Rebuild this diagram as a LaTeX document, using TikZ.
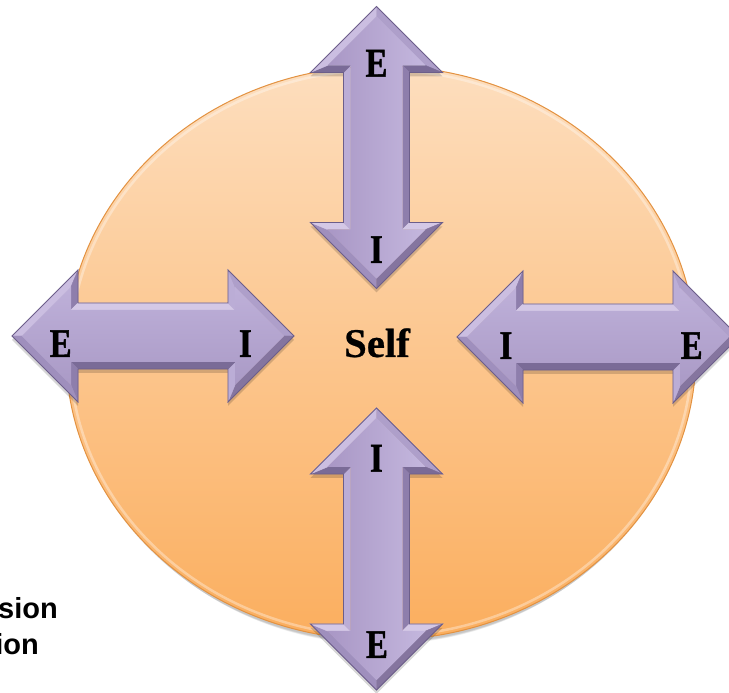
\documentclass[tikz,border=0pt]{standalone}
\usepackage{fontspec}
\newfontfamily\letfont[FakeStretch=0.8,FakeBold=1.2]{Liberation Serif Bold}
\newfontfamily\selffont[FakeBold=0.6]{Liberation Serif Bold}
\newfontfamily\labfont{Liberation Sans Bold}
\definecolor{cTop}{HTML}{FDDEBE}
\definecolor{cMid}{HTML}{FDC994}
\definecolor{cBot}{HTML}{FBAE5E}
\definecolor{cEdge}{HTML}{E39241}
\definecolor{bvU}{HTML}{D4C8E6}
\definecolor{bvUL}{HTML}{CBBEE1}
\definecolor{bvL}{HTML}{BBADD6}
\definecolor{bvUR}{HTML}{AE9FCA}
\definecolor{bvDL}{HTML}{9F8FBD}
\definecolor{bvR}{HTML}{8E7EAC}
\definecolor{bvDR}{HTML}{85759F}
\definecolor{bvD}{HTML}{7A6B97}
\definecolor{arrLine}{HTML}{6C5E8A}
\definecolor{hfTop}{HTML}{BEB0D9}
\definecolor{hfBot}{HTML}{AA9AC6}
\definecolor{vfLeft}{HTML}{A997C5}
\definecolor{vfRight}{HTML}{C4B7DE}
% horizontal arrows: facet normals UL,R,U,L,UR,DR,L,D,R,DL
\colorlet{hA}{bvUL}\colorlet{hB}{bvR}\colorlet{hC}{bvU}\colorlet{hD}{bvL}\colorlet{hE}{bvUR}
\colorlet{hF}{bvDR}\colorlet{hG}{bvL}\colorlet{hH}{bvD}\colorlet{hI}{bvR}\colorlet{hJ}{bvDL}
% vertical arrows: DL,U,L,D,UL,UR,D,R,U,DR
\colorlet{vA}{bvDL}\colorlet{vB}{bvU}\colorlet{vC}{bvL}\colorlet{vD}{bvD}\colorlet{vE}{bvUL}
\colorlet{vF}{bvUR}\colorlet{vG}{bvD}\colorlet{vH}{bvR}\colorlet{vI}{bvU}\colorlet{vJ}{bvDR}
\tikzset{
  facet/.style={fill=#1,draw=#1,line width=0.4pt},
  hface/.style={top color=hfTop,bottom color=hfBot},
  vface/.style={left color=vfLeft,right color=vfRight},
  letr/.style={font=\letfont\fontsize{40.8}{48}\selectfont,inner sep=0pt,anchor=base,text=black},
  selftext/.style={font=\selffont\fontsize{40.8}{48}\selectfont,inner sep=0pt,anchor=base,text=black},
  sidelab/.style={font=\labfont\fontsize{29}{34}\selectfont,inner sep=0pt,anchor=base east,text=black},
}
\newcommand{\bevarrow}[3]{%
  \fill[black,opacity=0.16,shift={#1},yshift=-4,rotate=#2]
    (-141,0)--(-75,66)--(-75,33)--(75,33)--(75,66)--(141,0)--(75,-66)--(75,-33)--(-75,-33)--(-75,-66)--cycle;
  \begin{scope}[shift={#1},rotate=#2]
    \coordinate (P1) at (-141,0);  \coordinate (P2) at (-75,66);
    \coordinate (P3) at (-75,33);  \coordinate (P4) at (75,33);
    \coordinate (P5) at (75,66);   \coordinate (P6) at (141,0);
    \coordinate (P7) at (75,-66);  \coordinate (P8) at (75,-33);
    \coordinate (P9) at (-75,-33); \coordinate (P10) at (-75,-66);
    \coordinate (Q1) at (-131.1,0);  \coordinate (Q2) at (-82,49.1);
    \coordinate (Q3) at (-82,26);    \coordinate (Q4) at (82,26);
    \coordinate (Q5) at (82,49.1);   \coordinate (Q6) at (131.1,0);
    \coordinate (Q7) at (82,-49.1);  \coordinate (Q8) at (82,-26);
    \coordinate (Q9) at (-82,-26);   \coordinate (Q10) at (-82,-49.1);
  \end{scope}
  \filldraw[facet=#3A] (P1)--(P2)--(Q2)--(Q1)--cycle;
  \filldraw[facet=#3B] (P2)--(P3)--(Q3)--(Q2)--cycle;
  \filldraw[facet=#3C] (P3)--(P4)--(Q4)--(Q3)--cycle;
  \filldraw[facet=#3D] (P4)--(P5)--(Q5)--(Q4)--cycle;
  \filldraw[facet=#3E] (P5)--(P6)--(Q6)--(Q5)--cycle;
  \filldraw[facet=#3F] (P6)--(P7)--(Q7)--(Q6)--cycle;
  \filldraw[facet=#3G] (P7)--(P8)--(Q8)--(Q7)--cycle;
  \filldraw[facet=#3H] (P8)--(P9)--(Q9)--(Q8)--cycle;
  \filldraw[facet=#3I] (P9)--(P10)--(Q10)--(Q9)--cycle;
  \filldraw[facet=#3J] (P10)--(P1)--(Q1)--(Q10)--cycle;
  \shade[#3face] (Q1)--(Q2)--(Q3)--(Q4)--(Q5)--(Q6)--(Q7)--(Q8)--(Q9)--(Q10)--cycle;
  \draw[arrLine,line width=0.9pt,line join=miter]
    (P1)--(P2)--(P3)--(P4)--(P5)--(P6)--(P7)--(P8)--(P9)--(P10)--cycle;
}
\begin{document}
\begin{tikzpicture}[x=1pt,y=1pt]
\useasboundingbox (0,0) rectangle (729,693);
\clip (0,0) rectangle (729,693);
\fill[white] (0,0) rectangle (729,693);
% shadow of the disc
\foreach \i in {1,...,6}
  \fill[black,opacity=0.04] (381,{340-2-\i}) ellipse [x radius={315-1.2*\i}, y radius={287-0.6*\i}];
% the disc
\shade[top color=cTop,middle color=cMid,bottom color=cBot] (381,340) ellipse [x radius=315, y radius=287];
\draw[white,opacity=0.35,line width=2.5pt] (381,340) ellipse [x radius=311, y radius=283];
\draw[cEdge,line width=1pt] (381,340) ellipse [x radius=315, y radius=287];
% arrows
\bevarrow{(376.5,545.5)}{90}{v}
\bevarrow{(376.5,144)}{90}{v}
\bevarrow{(153,357)}{0}{h}
\bevarrow{(598,356)}{0}{h}
% texts
\node[letr] (tE) at (376.5,616.3) {E};
\node[letr] (tI) at (376.5,430) {I};
\node[letr] (lE) at (60.7,336) {E};
\node[letr] (lI) at (245.5,336) {I};
\node[letr] (rI) at (506,334) {I};
\node[letr] (rE) at (691.7,334) {E};
\node[letr] (bI) at (376.5,221.3) {I};
\node[letr] (bE) at (377,35) {E};
\node[selftext] (self) at (377,336) {Self};
\node[sidelab] (l1) at (58,74) {sion};
\node[sidelab] (l2) at (39,38) {ion};
\end{tikzpicture}
\end{document}
